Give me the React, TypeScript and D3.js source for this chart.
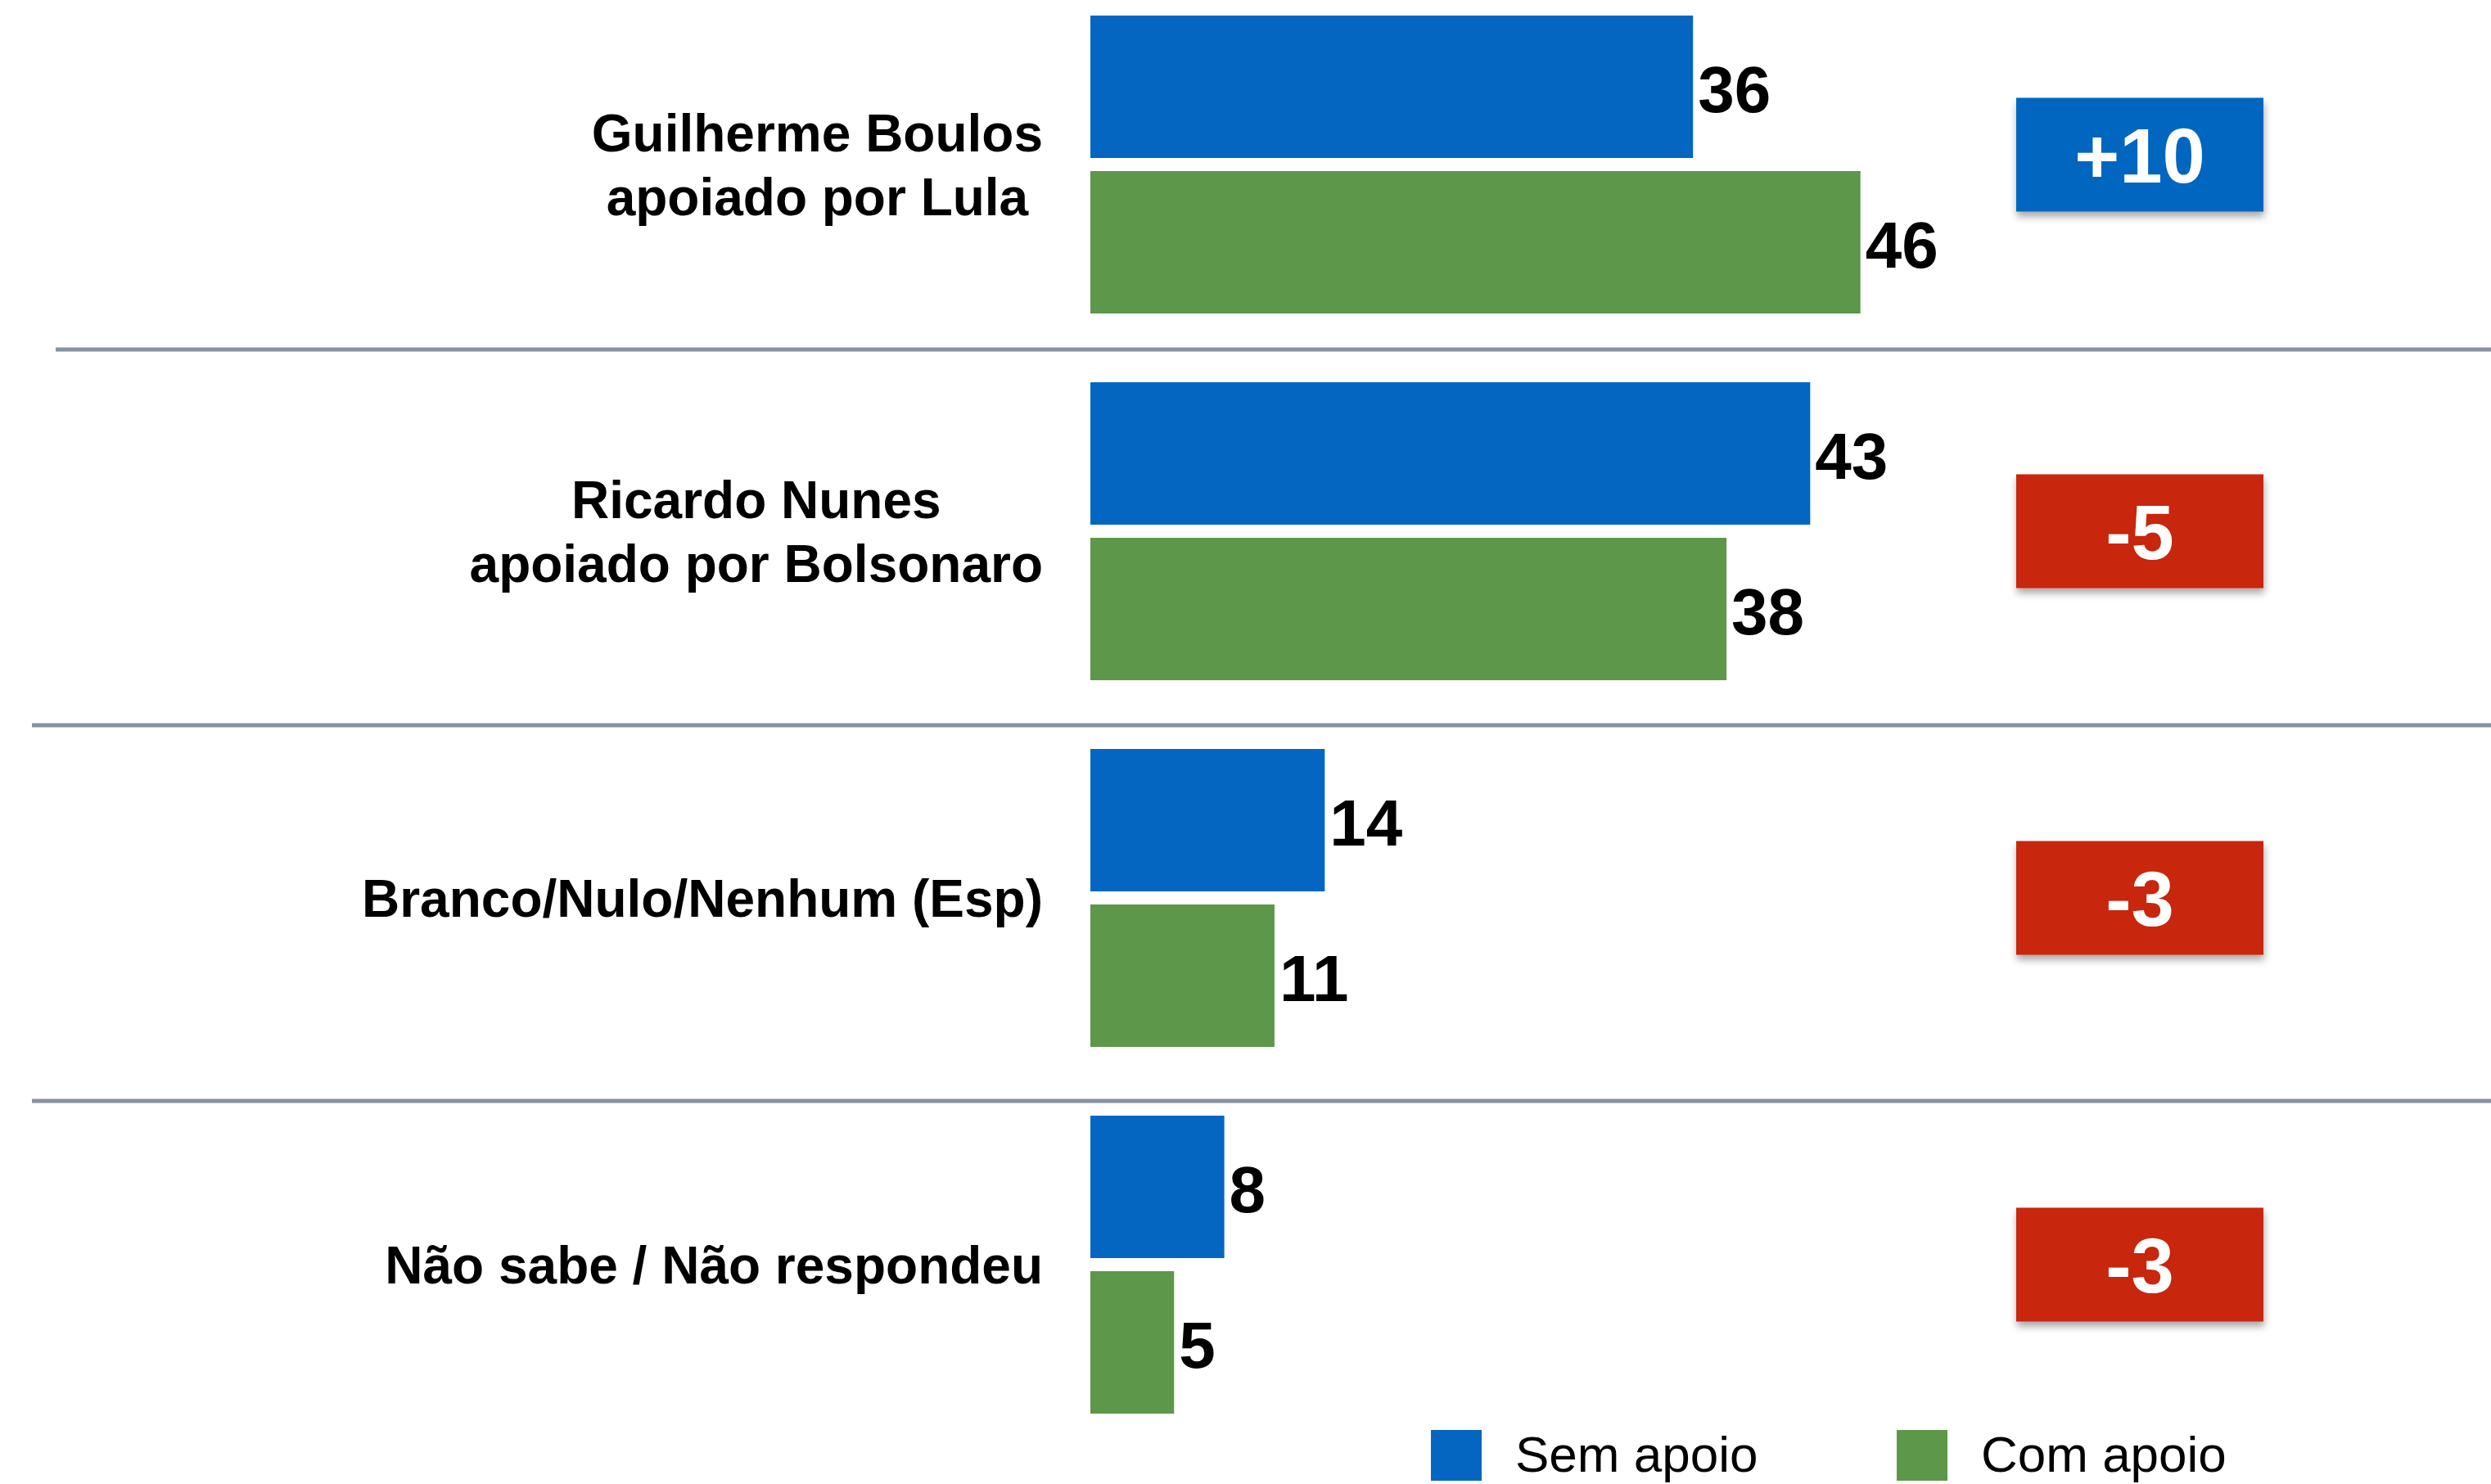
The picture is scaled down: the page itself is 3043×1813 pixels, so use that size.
import React, { useEffect, useRef } from "react";
import * as d3 from "d3";

const categories: string[][] = [
  ["Guilherme Boulos", "apoiado por Lula"],
  ["Ricardo Nunes", "apoiado por Bolsonaro"],
  ["Branco/Nulo/Nenhum (Esp)"],
  ["Não sabe / Não respondeu"],
];
const semApoio = [36, 43, 14, 8];
const comApoio = [46, 38, 11, 5];
const seriesNames = ["Sem apoio", "Com apoio"];
const seriesColors = ["#0466C0", "#5D974A"];

const W = 3043;
const H = 1813;
const FONT = "'Liberation Sans', Arial, Helvetica, sans-serif";

export default function App() {
  const ref = useRef<SVGSVGElement | null>(null);

  useEffect(() => {
    document.body.style.margin = "0";
    const svg = d3.select(ref.current);
    svg.selectAll("*").remove();

    const defs = svg.append("defs");
    const f = defs
      .append("filter")
      .attr("id", "shadow")
      .attr("x", "-20%")
      .attr("y", "-20%")
      .attr("width", "140%")
      .attr("height", "150%");
    f.append("feDropShadow")
      .attr("dx", 1)
      .attr("dy", 6)
      .attr("stdDeviation", 5)
      .attr("flood-color", "#000")
      .attr("flood-opacity", 0.35);

    const idx = d3.range(categories.length);
    const y = d3.scaleBand<number>().domain(idx).range([19, 19 + 448 * idx.length]);
    const inner = d3
      .scaleBand<number>()
      .domain([0, 1])
      .range([0, 364])
      .paddingInner(2 - 364 / 190);
    const x = d3.scaleLinear().domain([0, 100]).range([1332, 1332 + 2045]);

    // separators
    const sepY = d3.scaleLinear().domain([0, 1]).range([427, 427 + 459]);
    d3.range(categories.length - 1).forEach((k) => {
      svg
        .append("line")
        .attr("x1", k === 0 ? 68 : 39)
        .attr("x2", W)
        .attr("y1", sepY(k))
        .attr("y2", sepY(k))
        .attr("stroke", "#8692A0")
        .attr("stroke-width", 5);
    });

    const series = [semApoio, comApoio];

    idx.forEach((i) => {
      const g0 = y(i)!;
      const center = g0 + 182;

      // bars & labels
      series.forEach((vals, s) => {
        const by = g0 + inner(s)!;
        const bh = inner.bandwidth();
        svg
          .append("rect")
          .attr("x", x(0))
          .attr("y", by)
          .attr("width", x(vals[i]) - x(0))
          .attr("height", bh)
          .attr("fill", seriesColors[s]);
        svg
          .append("text")
          .attr("x", x(vals[i]) + 6)
          .attr("y", by + bh / 2 + 31)
          .attr("font-family", FONT)
          .attr("font-weight", "bold")
          .attr("font-size", 80)
          .attr("fill", "#000")
          .text(String(vals[i]));
      });

      // category labels
      const lines = categories[i];
      const texts = lines.map((ln, j) =>
        svg
          .append("text")
          .attr("y", center + 23 + (j - (lines.length - 1) / 2) * 78)
          .attr("font-family", FONT)
          .attr("font-weight", "bold")
          .attr("font-size", 64)
          .attr("fill", "#000")
          .attr("text-anchor", "middle")
          .text(ln)
      );
      const maxW = d3.max(texts, (t) => (t.node() as SVGTextElement).getComputedTextLength()) || 0;
      const cx = 1274 - maxW / 2;
      texts.forEach((t) => t.attr("x", cx));

      // difference badge
      const diff = comApoio[i] - semApoio[i];
      const bw = 302;
      const bhh = 139;
      const bc = i === 0 ? center - 12 : center;
      svg
        .append("rect")
        .attr("x", 2463)
        .attr("y", bc - bhh / 2)
        .attr("width", bw)
        .attr("height", bhh)
        .attr("fill", diff >= 0 ? "#0466C0" : "#C8250A")
        .attr("filter", "url(#shadow)");
      svg
        .append("text")
        .attr("x", 2463 + bw / 2)
        .attr("y", bc + 34)
        .attr("text-anchor", "middle")
        .attr("font-family", FONT)
        .attr("font-weight", "bold")
        .attr("font-size", 94)
        .attr("fill", "#fff")
        .text((diff > 0 ? "+" : "") + String(diff));
    });

    // legend
    const legendX = [1748, 2317];
    seriesNames.forEach((name, s) => {
      svg
        .append("rect")
        .attr("x", legendX[s])
        .attr("y", 1747)
        .attr("width", 62)
        .attr("height", 62)
        .attr("fill", seriesColors[s]);
      svg
        .append("text")
        .attr("x", legendX[s] + 103)
        .attr("y", 1798)
        .attr("font-family", FONT)
        .attr("font-size", 62)
        .attr("fill", "#000")
        .text(name);
    });
  }, []);

  return (
    <svg
      ref={ref}
      width={W}
      height={H}
      viewBox={`0 0 ${W} ${H}`}
      style={{ position: "absolute", left: 0, top: 0, display: "block", background: "#fff" }}
    />
  );
}
